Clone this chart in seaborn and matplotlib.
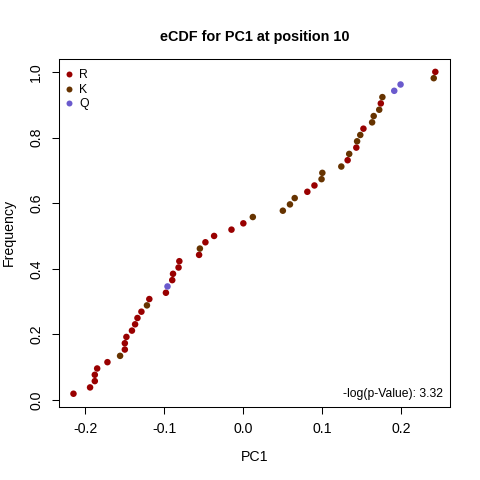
import numpy as np
import pandas as pd
import matplotlib
matplotlib.use("Agg")
import matplotlib.pyplot as plt
import seaborn as sns

# Data (sorted PC1 values with their residue)
pc1 = [-0.215, -0.194, -0.188, -0.188, -0.185, -0.172, -0.156, -0.150, -0.150, -0.148,
       -0.141, -0.137, -0.134, -0.129, -0.122, -0.119, -0.098, -0.096, -0.090, -0.089,
       -0.082, -0.081, -0.056, -0.055, -0.048, -0.037, -0.015, 0.000, 0.012, 0.050,
       0.059, 0.065, 0.081, 0.090, 0.099, 0.100, 0.124, 0.132, 0.134, 0.143,
       0.144, 0.148, 0.152, 0.163, 0.165, 0.172, 0.174, 0.176, 0.191, 0.199,
       0.241, 0.243]
residue = ["R", "R", "R", "R", "R", "R", "K", "R", "R", "R",
           "R", "R", "R", "R", "K", "R", "R", "Q", "R", "R",
           "R", "R", "R", "K", "R", "R", "R", "R", "K", "K",
           "K", "K", "R", "R", "K", "K", "K", "R", "K", "R",
           "K", "K", "R", "K", "K", "K", "R", "K", "Q", "Q",
           "K", "R"]
categories = ["R", "K", "Q"]
colors = ["#990000", "#663300", "#6A5ACD"]
title = "eCDF for PC1 at position 10"
pval_text = "-log(p-Value): 3.32"
xticks = [-0.2, -0.1, 0.0, 0.1, 0.2]
yticks = [0.0, 0.2, 0.4, 0.6, 0.8, 1.0]

n = len(pc1)
df = pd.DataFrame({"PC1": pc1, "residue": residue})
df = df.sort_values("PC1", kind="stable").reset_index(drop=True)
df["Frequency"] = np.arange(1, n + 1) / n

sns.set_style("white")
plt.rcParams["font.family"] = ["Liberation Sans", "DejaVu Sans"]
plt.rcParams["axes.unicode_minus"] = False
for k in ["text.color", "axes.labelcolor", "xtick.color", "ytick.color"]:
    plt.rcParams[k] = "black"

fig = plt.figure(figsize=(4.8, 4.8), dpi=100)
ax = fig.add_axes([59 / 480, 73.4 / 480, 390.8 / 480, 347.6 / 480])

sns.scatterplot(data=df, x="PC1", y="Frequency", hue="residue",
                hue_order=categories, palette=dict(zip(categories, colors)),
                s=22, linewidth=0, ax=ax, legend=False)

# R style 4% padding
xr = df["PC1"].max() - df["PC1"].min()
ax.set_xlim(df["PC1"].min() - 0.04 * xr, df["PC1"].max() + 0.04 * xr)
yr = df["Frequency"].max() - df["Frequency"].min()
ax.set_ylim(df["Frequency"].min() - 0.04 * yr, df["Frequency"].max() + 0.04 * yr)

ax.set_xticks(xticks)
ax.set_xticklabels([f"{t:.1f}" for t in xticks])
ax.set_yticks(yticks)
ax.set_yticklabels([f"{t:.1f}" for t in yticks], rotation=90, va="center")
ax.tick_params(axis="both", direction="out", length=5.2, width=0.75,
               color="black", labelsize=10.2, pad=6.2, labelcolor="black")
ax.tick_params(axis="both", which="both", bottom=True, left=True)
for sp in ax.spines.values():
    sp.set_visible(True)
    sp.set_color("black")
    sp.set_linewidth(0.75)

ax.set_xlabel("PC1", fontsize=10.2, labelpad=9.8)
ax.set_ylabel("Frequency", fontsize=10.2, labelpad=9.6)
ax.set_title(title, fontsize=10.4, fontweight="bold", pad=12.8)

# legend
handles = [plt.Line2D([], [], marker="o", linestyle="", markersize=4.3,
                      markerfacecolor=c, markeredgewidth=0) for c in colors]
ax.legend(handles, categories, loc="upper left", frameon=False, fontsize=8.8,
          handlelength=0.8, handletextpad=0.45, labelspacing=0.2,
          borderaxespad=0.0, borderpad=0.3, bbox_to_anchor=(0.0036, 0.9804))

ax.text(0.982, 0.036, pval_text, transform=ax.transAxes, ha="right",
        va="center", fontsize=8.7)

fig.savefig("out.png", dpi=100)
